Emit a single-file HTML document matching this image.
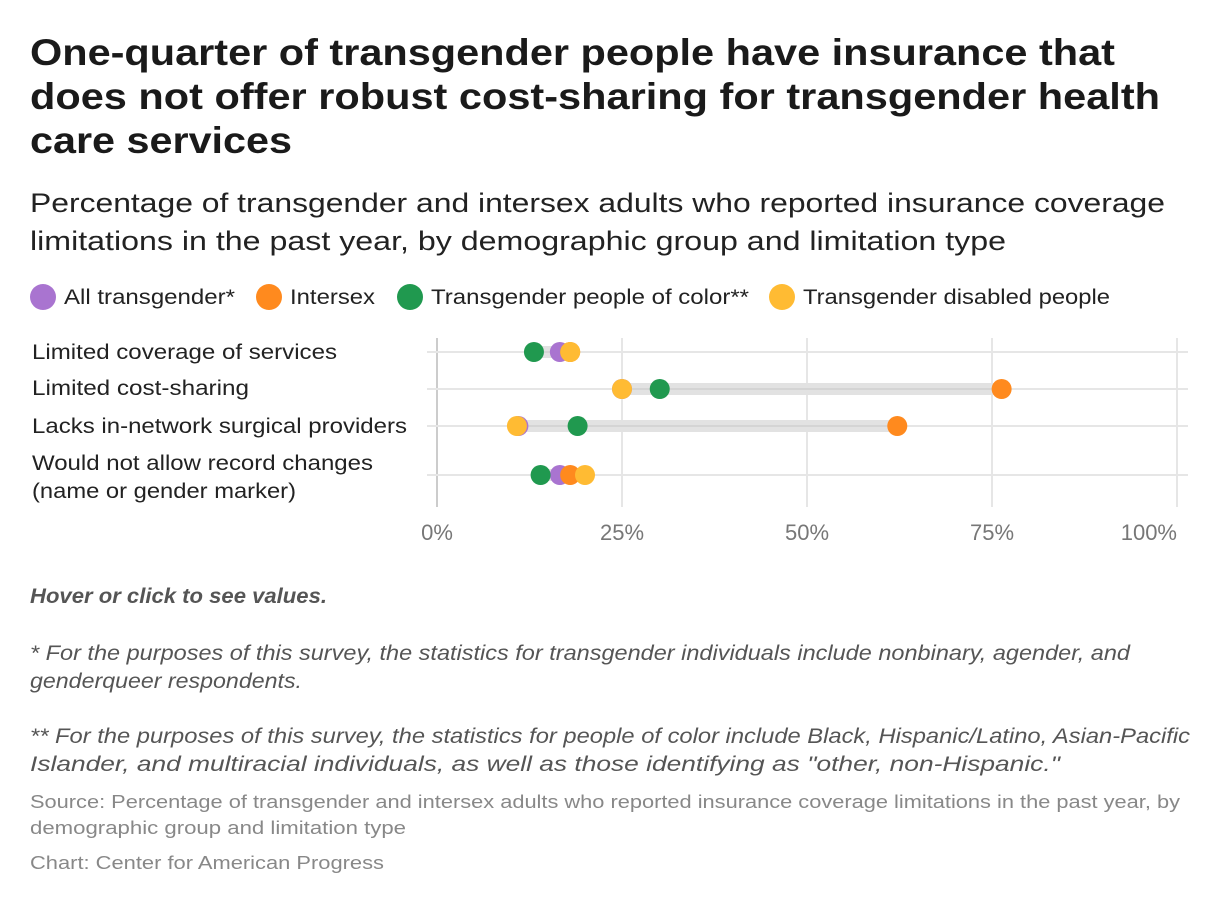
<!DOCTYPE html>
<html><head><meta charset="utf-8"><style>
html,body{margin:0;padding:0;background:#fff;}
svg{display:block;font-family:"Liberation Sans",sans-serif;}
</style></head><body>
<svg width="1220" height="906" viewBox="0 0 1220 906">
<g font-weight="bold" font-size="37" fill="#1a1a1a">
<text x="30" y="65" textLength="1085" lengthAdjust="spacingAndGlyphs">One-quarter of transgender people have insurance that</text>
<text x="30" y="109" textLength="1130" lengthAdjust="spacingAndGlyphs">does not offer robust cost-sharing for transgender health</text>
<text x="30" y="153" textLength="262" lengthAdjust="spacingAndGlyphs">care services</text>
</g>
<g font-size="27" fill="#222">
<text x="30" y="212" textLength="1135" lengthAdjust="spacingAndGlyphs">Percentage of transgender and intersex adults who reported insurance coverage</text>
<text x="30" y="250" textLength="976" lengthAdjust="spacingAndGlyphs">limitations in the past year, by demographic group and limitation type</text>
</g>
<g id="legend" font-size="21" fill="#222"></g>
<g id="plot"></g>
<g font-style="italic" font-size="21" fill="#555">
<text x="30" y="603" font-weight="bold" textLength="297" lengthAdjust="spacingAndGlyphs">Hover or click to see values.</text>
<text x="30" y="660" textLength="1100" lengthAdjust="spacingAndGlyphs">* For the purposes of this survey, the statistics for transgender individuals include nonbinary, agender, and</text>
<text x="30" y="688" textLength="272" lengthAdjust="spacingAndGlyphs">genderqueer respondents.</text>
<text x="30" y="743" textLength="1160" lengthAdjust="spacingAndGlyphs">** For the purposes of this survey, the statistics for people of color include Black, Hispanic/Latino, Asian-Pacific</text>
<text x="30" y="771" textLength="1030" lengthAdjust="spacingAndGlyphs">Islander, and multiracial individuals, as well as those identifying as "other, non-Hispanic."</text>
</g>
<g font-size="18" fill="#888">
<text x="30" y="808" textLength="1150" lengthAdjust="spacingAndGlyphs">Source: Percentage of transgender and intersex adults who reported insurance coverage limitations in the past year, by</text>
<text x="30" y="834" textLength="376" lengthAdjust="spacingAndGlyphs">demographic group and limitation type</text>
<text x="30" y="869" textLength="354" lengthAdjust="spacingAndGlyphs">Chart: Center for American Progress</text>
</g>
<script>
const categories = ["Limited coverage of services","Limited cost-sharing","Lacks in-network surgical providers","Would not allow record changes"];
const seriesNames = ["All transgender*","Intersex","Transgender people of color**","Transgender disabled people"];
const allTransgender = [16.6, 25, 11, 16.6];
const intersex = [18, 76.3, 62.2, 18];
const peopleOfColor = [13.1, 30.1, 19, 14];
const disabled = [18, 25, 10.8, 20];
const tickLabels = ["0%","25%","50%","75%","100%"];
const tickValues = [0,25,50,75,100];

const NS="http://www.w3.org/2000/svg";
const colors=["#a974d0","#ff8a1e","#20994f","#ffbb33"];
const series=[allTransgender,intersex,peopleOfColor,disabled];
const x0=437,x1=1177;
const xs=v=>x0+(x1-x0)*v/100;
const rowY=[352,389,426,475];
function mk(tag,attrs,parent){const e=document.createElementNS(NS,tag);for(const k in attrs)e.setAttribute(k,attrs[k]);parent.appendChild(e);return e;}
const leg=document.getElementById('legend');
const lx=[43,269,410,782];
const lw=[171,85,318,307];
seriesNames.forEach((n,i)=>{
  const c=mk('circle',{cx:lx[i],cy:297,r:13,fill:colors[i]},leg);
  
  
  const t=mk('text',{x:lx[i]+21,y:304,textLength:lw[i],lengthAdjust:'spacingAndGlyphs'},leg);t.textContent=n;
  
  
});
const p=document.getElementById('plot');
tickValues.forEach((v,i)=>{
  const l=mk('line',{x1:xs(v),x2:xs(v),y1:338,y2:507,stroke:i==0?'#ccc':'#e6e6e6','stroke-width':2},p);
  
  
  const last=i==tickValues.length-1;
  const t=mk('text',{x:xs(v),y:540,'text-anchor':last?'end':'middle','font-size':22,fill:'#777'},p);
  t.textContent=tickLabels[i];
  
  
});
const labLines=[["Limited coverage of services"],["Limited cost-sharing"],["Lacks in-network surgical providers"],["Would not allow record changes","(name or gender marker)"]];
const labW=[[305],[217],[375],[341,264]];
const labY=[[359],[395],[433],[470,498]];
categories.forEach((c,r)=>{
  const y=rowY[r];
  const g=mk('line',{x1:427,x2:1188,y1:y,y2:y,stroke:'#e6e6e6','stroke-width':2},p);
  
  
  labLines[r].forEach((s,k)=>{
    const t=mk('text',{x:32,y:labY[r][k],'font-size':21,fill:'#222',textLength:labW[r][k],lengthAdjust:'spacingAndGlyphs'},p);t.textContent=s;
    
    
  });
  const vals=series.map(a=>a[r]);
  const mn=Math.min(...vals),mx=Math.max(...vals);
  const b=mk('line',{x1:xs(mn),x2:xs(mx),y1:y,y2:y,stroke:'#e2e2e2','stroke-width':12},p);
  
  
  const b2=mk('line',{x1:xs(mn),x2:xs(mx),y1:y,y2:y,stroke:'#d4d4d4','stroke-width':2},p);
  
  
  series.forEach((a,i)=>{
    const d=mk('circle',{cx:xs(a[r]),cy:y,r:10,fill:colors[i]},p);
    
    
  });
});
</script>
</svg>
</body></html>
